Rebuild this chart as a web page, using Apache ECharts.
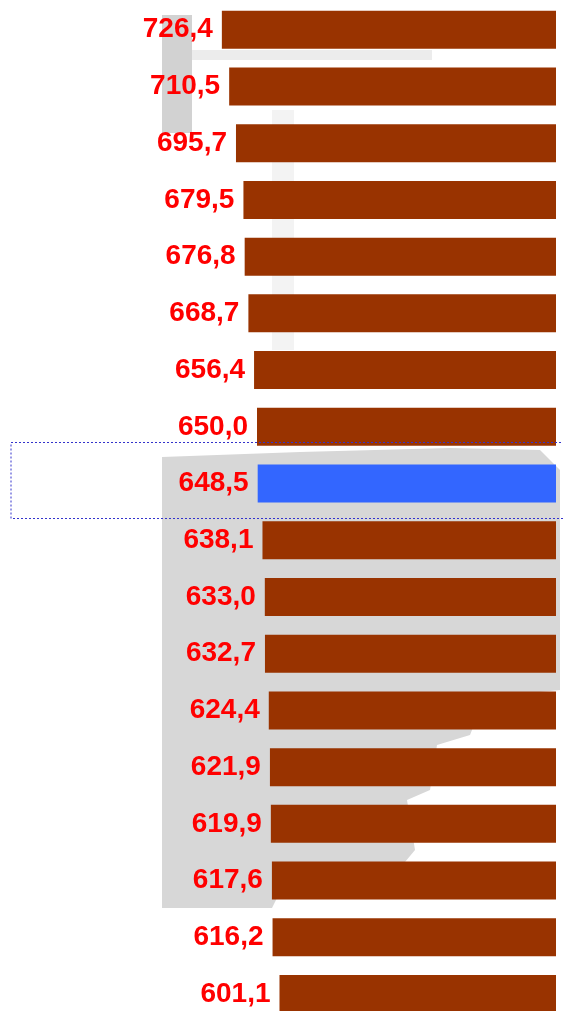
<!DOCTYPE html>
<html>
<head>
<meta charset="utf-8">
<script src="https://cdn.jsdelivr.net/npm/echarts@6/dist/echarts.min.js"></script>
<style>
    html, body { margin: 0; padding: 0; background: #fff; }
    #main { width: 563px; height: 1011px; }
</style>
</head>
<body>
<div id="main"></div>
<script>
var categories = ['1', '2', '3', '4', '5', '6', '7', '8', '9', '10', '11', '12', '13', '14', '15', '16', '17', '18'];
var values = [726.4, 710.5, 695.7, 679.5, 676.8, 668.7, 656.4, 650.0, 648.5, 638.1, 633.0, 632.7, 624.4, 621.9, 619.9, 617.6, 616.2, 601.1];
var highlightIndex = 8;

function formatNum(v) {
    return v.toFixed(1).replace('.', ',');
}

// grey map-like backdrop (decoration only)
function backdrop() {
    return [{
        type: 'rect',
        z: -10,
        silent: true,
        shape: { x: 162, y: 15, width: 30, height: 118 },
        style: { fill: '#d2d2d2' }
    }, {
        type: 'rect',
        z: -10,
        silent: true,
        shape: { x: 192, y: 50, width: 240, height: 10 },
        style: { fill: '#ececec' }
    }, {
        type: 'rect',
        z: -10,
        silent: true,
        shape: { x: 272, y: 110, width: 22, height: 240 },
        style: { fill: '#f3f3f3' }
    }, {
        type: 'polygon',
        z: -10,
        silent: true,
        shape: {
            points: [[162, 457], [300, 452], [450, 448], [540, 450], [560, 470], [560, 690],
                [540, 692], [487, 692], [470, 735], [437, 745], [430, 790], [407, 800],
                [415, 850], [400, 868], [290, 872], [272, 908], [162, 908]]
        },
        style: { fill: '#d7d7d7' }
    }];
}

var chart = echarts.init(document.getElementById('main'));

var option = {
    animation: false,
    grid: {
        left: 4,
        width: 552,
        top: 1.4,
        height: 1021,
        outerBoundsMode: 'none',
        containLabel: false
    },
    xAxis: {
        type: 'value',
        inverse: true,
        min: 0,
        max: 1200,
        show: false
    },
    yAxis: {
        type: 'category',
        inverse: true,
        data: categories,
        show: false
    },
    series: [{
        type: 'bar',
        barWidth: 38,
        data: values.map(function (v, i) {
            return {
                value: v,
                itemStyle: { color: i === highlightIndex ? '#3366ff' : '#993300' }
            };
        }),
        label: {
            show: true,
            position: 'left',
            distance: 9,
            color: '#ff0000',
            fontFamily: 'Liberation Sans, Arial, sans-serif',
            fontWeight: 'bold',
            fontSize: 28,
            formatter: function (p) {
                return formatNum(p.value);
            }
        }
    }]
};
chart.setOption(option);

var cy = chart.convertToPixel({ yAxisIndex: 0 }, highlightIndex);
var graphics = backdrop();
graphics.push({
    type: 'rect',
    z: 100,
    silent: true,
    shape: { x: 11, y: Math.round(cy) - 42 + 0.5, width: 600, height: 76 },
    style: { fill: 'none', stroke: '#3333cc', lineWidth: 1, lineDash: [2, 2] }
});
chart.setOption({ graphic: graphics });
</script>
</body>
</html>
